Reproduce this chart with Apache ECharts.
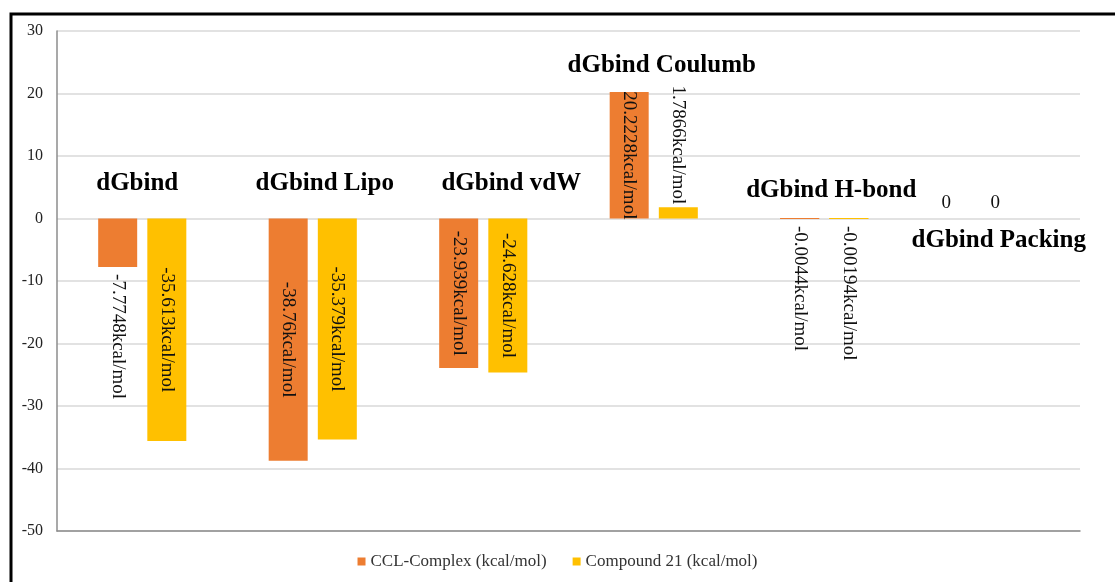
<!DOCTYPE html>
<html>
<head>
<meta charset="utf-8">
<script src="https://cdn.jsdelivr.net/npm/echarts@6/dist/echarts.min.js"></script>
<style>
  html, body { margin: 0; padding: 0; background: #fff; }
  #chart { width: 1115px; height: 582px; }
</style>
</head>
<body>
<div id="chart"></div>
<script>
// categorieen en waarden
const categories = ['dGbind', 'dGbind Lipo', 'dGbind vdW', 'dGbind Coulumb', 'dGbind H-bond', 'dGbind Packing'];
const cclComplex = [-7.7748, -38.76, -23.939, 20.2228, -0.0044, 0];
const compound21 = [-35.613, -35.379, -24.628, 1.7866, -0.00194, 0];
// hoogte (y-waarde) waar de categorienaam staat
const titleLevels = [5.6, 5.6, 5.6, 24.4, 4.4, -3.6];
const yTicks = { min: -50, max: 30, interval: 10 };

const serif = '"Liberation Serif", "Times New Roman", serif';

// label per balk: klein -> buiten de balk, groot -> in de balk, nul -> horizontaal
function barItem(color) {
  return function (v) {
    let label;
    let itemStyle;
    if (v === 0) {
      label = { show: true, position: 'top', rotate: 0, formatter: '0', distance: 6, offset: [-24, 0] };
    } else if (Math.abs(v) < 10) {
      label = {
        show: true, rotate: -90, verticalAlign: 'middle',
        position: v < 0 ? 'bottom' : 'top',
        align: v < 0 ? 'left' : 'right',
        distance: v < 0 ? 7 : 3
      };
      // heel kleine waarde: toon een dun lijntje
      if (Math.abs(v) < 0.1) itemStyle = { borderColor: color, borderWidth: 1 };
    } else {
      label = { show: true, rotate: -90, position: 'inside', align: 'center', verticalAlign: 'middle' };
    }
    return itemStyle ? { value: v, label: label, itemStyle: itemStyle } : { value: v, label: label };
  };
}

const titleOffsets = [-5, 12, 28, 8, 7, 4];

let chart = echarts.init(document.getElementById('chart'));

let option = {
  backgroundColor: '#fff',
  animation: false,
  textStyle: { fontFamily: serif },
  graphic: [{
    type: 'rect',
    shape: { x: 11, y: 14, width: 1200, height: 700 },
    style: { fill: 'none', stroke: '#000', lineWidth: 3 },
    silent: true
  }],
  grid: { left: 57, right: 35, top: 31, bottom: 51 },
  legend: {
    bottom: 7,
    left: 'center',
    itemWidth: 8,
    itemHeight: 8,
    itemGap: 26,
    icon: 'rect',
    textStyle: { fontFamily: serif, fontSize: 17, color: '#333' },
    data: ['CCL-Complex (kcal/mol)', 'Compound 21 (kcal/mol)']
  },
  xAxis: {
    type: 'category',
    data: categories,
    axisLine: { onZero: false, lineStyle: { color: '#8c8c8c', width: 1.5 } },
    axisTick: { show: false },
    axisLabel: { show: false }
  },
  yAxis: {
    type: 'value',
    min: yTicks.min,
    max: yTicks.max,
    interval: yTicks.interval,
    axisLine: { show: true, lineStyle: { color: '#8c8c8c', width: 1.5 } },
    axisTick: { show: false },
    axisLabel: { fontFamily: serif, fontSize: 16, color: '#222', margin: 14 },
    splitLine: { lineStyle: { color: '#d9d9d9', width: 1.5 } }
  },
  series: [
    {
      name: 'CCL-Complex (kcal/mol)',
      type: 'bar',
      barWidth: 39,
      barGap: '26%',
      itemStyle: { color: '#ED7D31' },
      label: {
        fontFamily: serif, fontSize: 19, color: '#111',
        formatter: p => p.value + 'kcal/mol'
      },
      data: cclComplex.map(barItem('#ED7D31'))
    },
    {
      name: 'Compound 21 (kcal/mol)',
      type: 'bar',
      barWidth: 39,
      barGap: '26%',
      itemStyle: { color: '#FFC000' },
      label: {
        fontFamily: serif, fontSize: 19, color: '#111',
        formatter: p => p.value + 'kcal/mol'
      },
      data: compound21.map(barItem('#FFC000'))
    },
    {
      // categorienamen als tekst in de grafiek
      type: 'scatter',
      symbolSize: 0,
      silent: true,
      itemStyle: { opacity: 1 },
      label: {
        show: true,
        position: 'inside',
        formatter: p => categories[p.dataIndex],
        fontFamily: serif,
        fontSize: 25,
        fontWeight: 'bold',
        color: '#000',
        opacity: 1,
        textBorderWidth: 0
      },
      data: titleLevels.map((y, i) => ({
        value: [categories[i], y],
        label: { offset: [titleOffsets[i], 0] }
      }))
    }
  ]
};

chart.setOption(option);
</script>
</body>
</html>
